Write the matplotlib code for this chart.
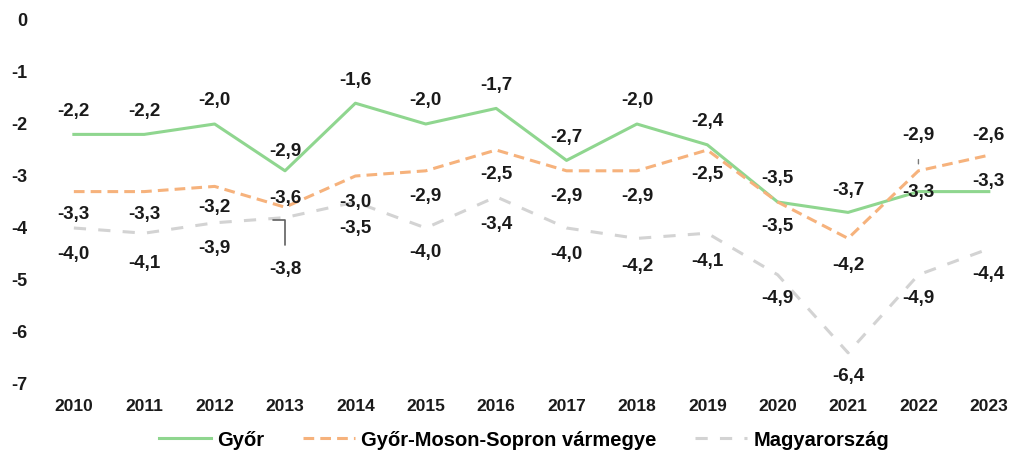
import matplotlib.pyplot as plt

plt.rcParams['font.family'] = ['Liberation Sans', 'DejaVu Sans']
plt.rcParams['axes.unicode_minus'] = False

years = [2010, 2011, 2012, 2013, 2014, 2015, 2016, 2017, 2018, 2019, 2020, 2021, 2022, 2023]
gyor = [-2.2, -2.2, -2.0, -2.9, -1.6, -2.0, -1.7, -2.7, -2.0, -2.4, -3.5, -3.7, -3.3, -3.3]
megye = [-3.3, -3.3, -3.2, -3.6, -3.0, -2.9, -2.5, -2.9, -2.9, -2.5, -3.5, -4.2, -2.9, -2.6]
orszag = [-4.0, -4.1, -3.9, -3.8, -3.5, -4.0, -3.4, -4.0, -4.2, -4.1, -4.9, -6.4, -4.9, -4.4]
names = ["Győr", "Győr-Moson-Sopron vármegye", "Magyarország"]

# label offsets in pixels (vertical), per point
off_gyor = [23, 23, 23, 19, 23, 23, 23, 23, 23, 23, 24, 22, -1, 10]
off_megye = [-23, -23, -21, 9, -26, -26, -25, -26, -26, -25, -24, -27, 35, 20]
off_orszag = [-26, -30, -26, -49, -26, -24, -28, -26, -28, -28, -24, -24, -24, -26]

fig = plt.figure(figsize=(10.11, 4.57), dpi=100)
ax = fig.add_axes([45 / 1011, 1 - 384 / 457, 960 / 1011, 364 / 457])

x = list(range(len(years)))
ax.plot(x, gyor, color='#8fd68f', lw=2.2, label=names[0])
ax.plot(x, megye, color='#f6b27c', lw=2.2, dashes=(3.5, 2), label=names[1])
ax.plot(x, orszag, color='#d3d3d3', lw=2.2, dashes=(4, 4), label=names[2])


def fmt(v):
    return f"{v:.1f}".replace('.', ',')


for vals, offs in [(gyor, off_gyor), (megye, off_megye), (orszag, off_orszag)]:
    for i, (v, o) in enumerate(zip(vals, offs)):
        xy = (i, v)
        dx = 0
        kw = {}
        if o > 30:
            kw['arrowprops'] = dict(arrowstyle='-', color='#7a7a7a', lw=1,
                                    shrinkA=9, shrinkB=5)
        elif o < -30:
            # bracket-like leader line
            kw['arrowprops'] = dict(arrowstyle='-', color='#606060', lw=1.2,
                                    shrinkA=9, shrinkB=0,
                                    connectionstyle='angle,angleA=90,angleB=0,rad=0')
            xy = (i - 0.17, v - 0.05)
            dx = 12
        ax.annotate(fmt(v), xy, xytext=(dx, o), textcoords='offset pixels',
                    ha='center', va='center', fontsize=13.5, fontweight='bold',
                    color='#1a1a1a', **kw)

ax.set_xlim(-0.41, 13.23)
ax.set_ylim(-7, 0)
ax.set_xticks(x)
ax.set_xticklabels([str(y) for y in years])
ax.set_yticks(range(0, -8, -1))
ax.set_yticklabels([str(v) for v in range(0, -8, -1)])
ax.tick_params(length=0, labelsize=12.5, colors='#1a1a1a')
ax.tick_params(axis='y', labelsize=13, pad=13)
ax.tick_params(axis='x', pad=11)
for lab in ax.get_xticklabels() + ax.get_yticklabels():
    lab.set_fontweight('bold')
for s in ax.spines.values():
    s.set_visible(False)

fig.legend(loc='center', bbox_to_anchor=(524 / 1011, 1 - 440 / 457), ncol=3,
           frameon=False, handlelength=2.6, handletextpad=0.3, columnspacing=1.9,
           prop={'weight': 'bold', 'size': 14.5})

fig.savefig('out.png', dpi=100)
